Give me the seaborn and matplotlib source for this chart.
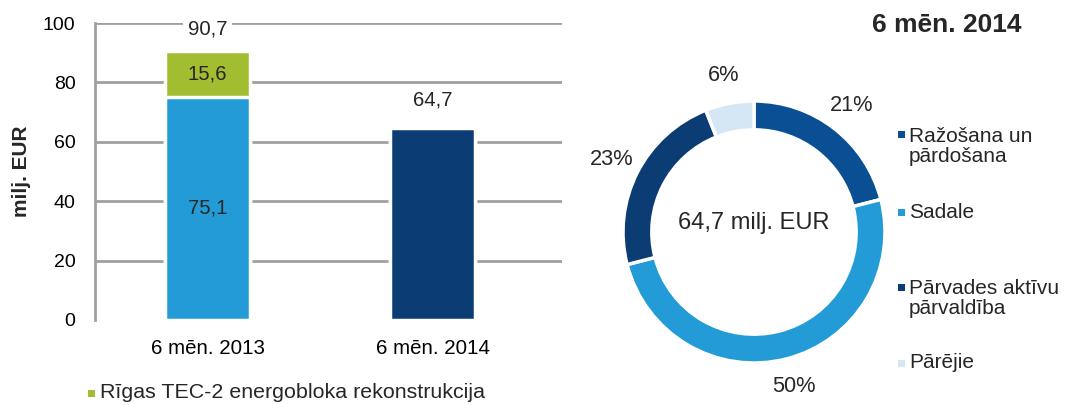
import matplotlib
matplotlib.use("Agg")
import matplotlib.pyplot as plt
import seaborn as sns
import pandas as pd
from matplotlib.patches import Rectangle

# bar chart data
periods = ["6 mēn. 2013", "6 mēn. 2014"]
base_values = [75.1, 64.7]
tec2_values = [15.6, 0.0]
total_values = [90.7, 64.7]
tec2_label = "Rīgas TEC-2 energobloka rekonstrukcija"

# donut data
segments = ["Ražošana un\npārdošana", "Sadale", "Pārvades aktīvu\npārvaldība", "Pārējie"]
shares = [21, 50, 23, 6]
donut_total = "64,7 milj. EUR"
donut_title = "6 mēn. 2014"

LIGHT_BLUE = "#239bd6"
GREEN = "#a2bd30"
NAVY = "#0b3c73"
MID_BLUE = "#0a4f93"
PALE = "#d5e6f5"
GRID = "#a0a0a0"

W, H = 1066, 405


def fmt(v):
    return f"{v:.1f}".replace(".", ",")


def px(x, y):
    # pixel position (from top-left) -> figure fraction
    return x / W, 1 - y / H


def square(fig, x, y, color, size=7):
    fx, fy = px(x - size / 2, y + size / 2)
    fig.patches.append(Rectangle((fx, fy), size / W, size / H, transform=fig.transFigure,
                                 facecolor=color, edgecolor="none"))


def main():
    sns.set_theme(style="white")
    plt.rcParams["font.family"] = ["Liberation Sans", "DejaVu Sans"]

    fig = plt.figure(figsize=(W / 100, H / 100), dpi=100)

    # ---- stacked bars ----
    ax = fig.add_axes([95 / W, 1 - 320 / H, 467 / W, 297 / H])
    df = pd.DataFrame({"period": periods, "base": base_values, "total": total_values})

    sns.barplot(data=df, x="period", y="total", hue="period", saturation=1,
                palette=[GREEN, NAVY], width=0.38, edgecolor="white",
                linewidth=2.5, legend=False, ax=ax, zorder=3)
    sns.barplot(data=df, x="period", y="base", hue="period", saturation=1,
                palette=[LIGHT_BLUE, NAVY], width=0.38, edgecolor="white",
                linewidth=2.5, legend=False, ax=ax, zorder=4)

    ax.set_xlim(-0.5, 1.575)
    ax.set_ylim(0, 100)
    ax.set_yticks(range(0, 101, 20))
    ax.yaxis.grid(True, color=GRID, linewidth=2, zorder=0)
    ax.get_ygridlines()[0].set_visible(False)
    ax.set_axisbelow(True)
    for s in ["top", "right", "bottom"]:
        ax.spines[s].set_visible(False)
    ax.spines["left"].set_color(GRID)
    ax.spines["left"].set_linewidth(2)
    ax.tick_params(axis="both", length=0, labelsize=14, colors="black")
    ax.tick_params(axis="x", labelsize=14.8, pad=14)
    ax.tick_params(axis="y", pad=14)
    ax.set_xlabel("")
    ax.set_ylabel("milj. EUR", fontsize=15, fontweight="bold")
    ax.yaxis.set_label_coords(-0.137, 0.5)

    # segment values
    ax.text(0, base_values[0] / 2, fmt(base_values[0]), ha="center", va="center",
            fontsize=14.6, zorder=6)
    ax.text(0, base_values[0] + tec2_values[0] / 2, fmt(tec2_values[0]), ha="center",
            va="center", fontsize=14.6, zorder=6)
    # totals
    for i, t in enumerate(total_values):
        off = 22 if i == 0 else 28
        ax.annotate(fmt(t), (i, t), xytext=(0, off), textcoords="offset pixels",
                    ha="center", va="center", fontsize=14.6, zorder=6,
                    bbox=dict(boxstyle="square,pad=0.25", fc="white", ec="none"))

    square(fig, 91, 393, GREEN)
    fig.text(*px(100, 393), tec2_label, ha="left", va="center", fontsize=15.4)

    # ---- donut ----
    cx, cy, r = 754, 232, 131
    pax = fig.add_axes([(cx - r) / W, (H - cy - r) / H, 2 * r / W, 2 * r / H])
    colors = [MID_BLUE, LIGHT_BLUE, NAVY, PALE]
    wedges, texts = pax.pie(shares, colors=colors,
                            startangle=90, counterclock=False, radius=1.0,
                            labels=[f"{s}%" for s in shares], labeldistance=1.22,
                            wedgeprops=dict(width=0.22, edgecolor="white", linewidth=2.5),
                            textprops=dict(fontsize=15.7))
    for t in texts:
        t.set_ha("center")
        t.set_va("center")
    pax.text(0, 0.07, donut_total, ha="center", va="center", fontsize=17)
    pax.set_aspect("auto")
    pax.set_xlim(-1, 1)
    pax.set_ylim(-1, 1)

    fig.text(*px(947, 25), donut_title, ha="center", va="center",
             fontsize=19, fontweight="bold")

    # legend entries (marker aligned with first line)
    first_line_y = [135, 212, 287, 363]
    for label, color, y in zip(segments, colors, first_line_y):
        square(fig, 901, y, color)
        nlines = label.count("\n") + 1
        fig.text(*px(909, y + 11.5 * (nlines - 1)), label, ha="left", va="center",
                 fontsize=15, linespacing=1.1)

    fig.savefig("out.png", dpi=100)


if __name__ == "__main__":
    main()
